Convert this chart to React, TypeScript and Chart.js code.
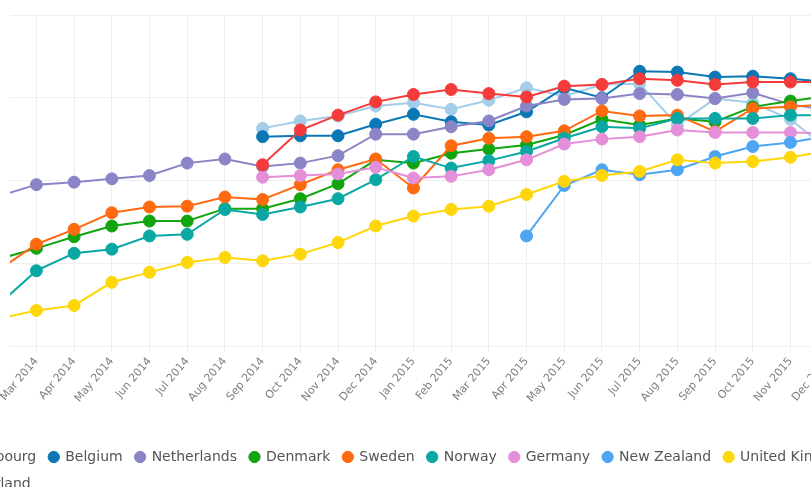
import React, { useEffect, useRef } from "react";
import { Chart, registerables } from "chart.js";

Chart.register(...registerables);

const MONTHS = [
  "Feb 2014", "Mar 2014", "Apr 2014", "May 2014", "Jun 2014", "Jul 2014", "Aug 2014",
  "Sep 2014", "Oct 2014", "Nov 2014", "Dec 2014", "Jan 2015", "Feb 2015", "Mar 2015",
  "Apr 2015", "May 2015", "Jun 2015", "Jul 2015", "Aug 2015", "Sep 2015", "Oct 2015",
  "Nov 2015", "Dec 2015",
];

const N = null;
const LUXEMBOURG = [N, N, N, N, N, N, N, 76.3, 77.2, 77.8, 79.0, 79.4, 78.6, 79.7, 81.2, 80.2, 81.6, 81.7, 76.7, 79.9, 79.4, 77.4, 73.7];
const BELGIUM = [N, N, N, N, N, N, N, 75.3, 75.4, 75.4, 76.8, 78.0, 77.1, 76.7, 78.3, 81.2, 80.0, 83.2, 83.1, 82.5, 82.6, 82.3, 81.9];
const NETHERLANDS = [68.1, 69.5, 69.8, 70.2, 70.6, 72.1, 72.6, 71.7, 72.1, 73.0, 75.6, 75.6, 76.5, 77.2, 79.0, 79.8, 79.9, 80.5, 80.4, 79.9, 80.6, 79.2, 78.5];
const DENMARK = [60.5, 61.8, 63.2, 64.5, 65.1, 65.1, 66.6, 66.6, 67.8, 69.6, 72.5, 72.1, 73.3, 73.8, 74.3, 75.5, 77.4, 76.7, 77.5, 77.1, 78.9, 79.6, 80.2];
const SWEDEN = [59.2, 62.3, 64.1, 66.1, 66.8, 66.9, 68.0, 67.7, 69.5, 71.3, 72.6, 69.1, 74.2, 75.1, 75.3, 76.0, 78.4, 77.8, 77.9, 75.9, 78.7, 78.9, 79.2];
const NORWAY = [55.0, 59.1, 61.2, 61.7, 63.3, 63.5, 66.5, 65.9, 66.8, 67.8, 70.1, 72.9, 71.5, 72.4, 73.5, 75.1, 76.5, 76.3, 77.5, 77.5, 77.5, 77.9, 77.9];
const GERMANY = [N, N, N, N, N, N, N, 70.4, 70.6, 70.8, 71.6, 70.3, 70.5, 71.3, 72.5, 74.4, 75.0, 75.3, 76.1, 75.8, 75.8, 75.8, 75.7];
const NEW_ZEALAND = [N, N, N, N, N, N, N, N, N, N, N, N, N, N, 63.3, 69.4, 71.3, 70.7, 71.3, 72.9, 74.1, 74.6, 75.4];
const UNITED_KINGDOM = [53.3, 54.3, 54.9, 57.7, 58.9, 60.1, 60.7, 60.3, 61.1, 62.5, 64.5, 65.7, 66.5, 66.9, 68.3, 69.9, 70.6, 71.1, 72.5, 72.1, 72.3, 72.8, 73.6];
const SWITZERLAND = [N, N, N, N, N, N, N, 71.9, 76.1, 77.9, 79.5, 80.4, 81.0, 80.5, 80.1, 81.4, 81.6, 82.3, 82.1, 81.6, 81.9, 81.9, 81.9];

const SERIES_NAMES = ["Luxembourg", "Belgium", "Netherlands", "Denmark", "Sweden", "Norway", "Germany", "New Zealand", "United Kingdom", "Switzerland"];
const SERIES_VALUES = [LUXEMBOURG, BELGIUM, NETHERLANDS, DENMARK, SWEDEN, NORWAY, GERMANY, NEW_ZEALAND, UNITED_KINGDOM, SWITZERLAND];
const SERIES_COLORS = ["#a3cde9", "#0b77b5", "#8a85c6", "#12a50f", "#ff6a10", "#0aa8a4", "#e58ed9", "#4ea5f4", "#ffd60a", "#f53a3a"];

const Y_MIN = 50;
const Y_MAX = 90;
const X_MIN = 0.3;
const X_MAX = 24.25;

export default function App() {
  const ref = useRef<HTMLCanvasElement | null>(null);

  useEffect(() => {
    if (!ref.current) return;
    const datasets = SERIES_NAMES.map((name, si) => ({
      label: name,
      data: SERIES_VALUES[si].map((v, i) => ({ x: i, y: v })),
      borderColor: SERIES_COLORS[si],
      backgroundColor: SERIES_COLORS[si],
      pointBackgroundColor: SERIES_COLORS[si],
      pointBorderColor: SERIES_COLORS[si],
      pointRadius: 6,
      pointBorderWidth: 1,
      borderWidth: 2,
      tension: 0,
      spanGaps: false,
      order: -si,
    }));

    const chart = new Chart(ref.current, {
      type: "line",
      data: { datasets },
      options: {
        animation: false,
        responsive: false,
        maintainAspectRatio: false,
        layout: { padding: { top: 15, left: 0, right: 0, bottom: 0 } },
        plugins: {
          tooltip: { enabled: false },
          legend: {
            position: "bottom",
            align: "start",
            labels: {
              usePointStyle: true,
              pointStyle: "circle",
              boxWidth: 9,
              boxHeight: 8,
              padding: 13,
              color: "#555",
              font: { family: "DejaVu Sans", size: 14 },
              sort: (a: any, b: any) => a.datasetIndex - b.datasetIndex,
            },
          },
        },
        scales: {
          x: {
            type: "linear",
            min: X_MIN,
            max: X_MAX,
            afterBuildTicks: (scale: any) => {
              scale.ticks = MONTHS.map((_, i) => ({ value: i })).filter(
                (t) => t.value >= scale.min && t.value <= scale.max
              );
            },
            afterFit: (scale: any) => {
              scale.height = 91;
            },
            grid: { color: "#efefef", tickLength: 6, drawTicks: true },
            border: { display: true, color: "#efefef" },
            ticks: {
              autoSkip: false,
              minRotation: 50,
              maxRotation: 50,
              padding: 3,
              color: "#808080",
              font: { family: "DejaVu Sans", size: 11 },
              callback: (v: any) => MONTHS[v] ?? "",
            },
          },
          y: {
            min: Y_MIN,
            max: Y_MAX,
            afterFit: (scale: any) => {
              scale.width = 90;
            },
            grid: { color: "#efefef", drawTicks: false },
            border: { display: false },
            ticks: { display: false, stepSize: 10 },
          },
        },
      },
    });
    return () => chart.destroy();
  }, []);

  return (
    <div
      style={{
        position: "fixed",
        left: 0,
        top: 0,
        width: 811,
        height: 487,
        overflow: "hidden",
        background: "#fff",
      }}
    >
      <div style={{ position: "absolute", left: -80, top: 0, width: 1000, height: 501 }}>
        <canvas ref={ref} width={1000} height={501} style={{ width: 1000, height: 501 }} />
      </div>
    </div>
  );
}
